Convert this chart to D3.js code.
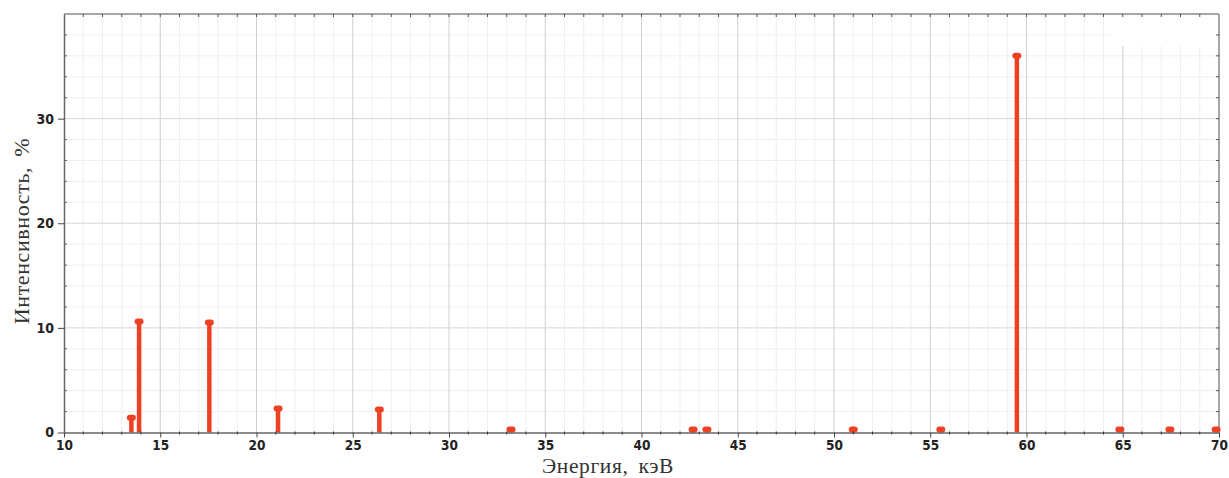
<!DOCTYPE html>
<html>
<head>
<meta charset="utf-8">
<script src="https://cdn.jsdelivr.net/npm/d3@7"></script>
<style>
  body { margin: 0; background: #fff; }
  svg { display: block; }
</style>
</head>
<body>
<svg id="chart" width="1229" height="478"></svg>
<script>
// line energies (keV) and intensities (%)
const energies = [13.5, 13.9, 17.55, 21.12, 26.38, 33.22, 42.68, 43.4, 51.0, 55.55, 59.5, 64.85, 67.45, 69.85];
const intensities = [1.5, 10.7, 10.6, 2.4, 2.3, 0.1, 0.05, 0.08, 0.05, 0.1, 36.1, 0.05, 0.05, 0.05];
const xTicks = [10, 15, 20, 25, 30, 35, 40, 45, 50, 55, 60, 65, 70];
const yTicks = [0, 10, 20, 30];
const xLabel = "Энергия, кэВ";
const yLabel = "Интенсивность, %";

const svg = d3.select("#chart");
const pL = 64, pR = 1219, pT = 14, pB = 432.5;

const x = d3.scaleLinear().domain([10, 70]).range([pL, pR]);
const y = d3.scaleLinear().domain([0, 40]).range([pB, pT]);

const grid = svg.append("g");
// minor grid
grid.selectAll(".mx").data(d3.range(11, 70, 1).filter(d => d % 5 !== 0)).enter().append("line")
  .attr("x1", d => x(d)).attr("x2", d => x(d)).attr("y1", pT).attr("y2", pB)
  .attr("stroke", "#efefef").attr("stroke-width", 1);
grid.selectAll(".my").data(d3.range(2, 40, 2).filter(d => d % 10 !== 0)).enter().append("line")
  .attr("x1", pL).attr("x2", pR).attr("y1", d => y(d)).attr("y2", d => y(d))
  .attr("stroke", "#efefef").attr("stroke-width", 1);
// major grid
grid.selectAll(".Mx").data(xTicks.slice(1, -1)).enter().append("line")
  .attr("x1", d => x(d)).attr("x2", d => x(d)).attr("y1", pT).attr("y2", pB)
  .attr("stroke", "#cfcfcf").attr("stroke-width", 1);
grid.selectAll(".My").data(yTicks.slice(1)).enter().append("line")
  .attr("x1", pL).attr("x2", pR).attr("y1", d => y(d)).attr("y2", d => y(d))
  .attr("stroke", "#d6d6d6").attr("stroke-width", 1);

// blank patch in the upper right corner of the original
svg.append("rect").attr("x", 1113).attr("y", pT + 1).attr("width", pR - 1114).attr("height", 31).attr("fill", "#fff");

// frame
svg.append("line").attr("x1", pL).attr("x2", pR).attr("y1", pT).attr("y2", pT).attr("stroke", "#888").attr("stroke-width", 1.5);
svg.append("line").attr("x1", pR).attr("x2", pR).attr("y1", pT).attr("y2", pB).attr("stroke", "#888").attr("stroke-width", 1.5);

// top / right minor ticks
svg.selectAll(".tt").data(d3.range(11, 70, 1)).enter().append("line")
  .attr("x1", d => x(d)).attr("x2", d => x(d)).attr("y1", pT).attr("y2", pT + 3)
  .attr("stroke", "#555");
svg.selectAll(".rt").data(d3.range(2, 40, 2)).enter().append("line")
  .attr("x1", pR - 3).attr("x2", pR).attr("y1", d => y(d)).attr("y2", d => y(d))
  .attr("stroke", "#555");

// stems
const red = "#ee4124";
const stems = svg.append("g");
stems.selectAll("line").data(energies).enter().append("line")
  .attr("x1", d => x(d)).attr("x2", d => x(d))
  .attr("y1", pB).attr("y2", (d, i) => y(intensities[i]))
  .attr("stroke", red).attr("stroke-width", 4.5);
stems.selectAll("rect").data(energies).enter().append("rect")
  .attr("x", d => x(d) - 4.5).attr("y", (d, i) => Math.min(y(intensities[i]), pB - 4) - 2)
  .attr("width", 9).attr("height", 6).attr("rx", 3)
  .attr("fill", red);

// axes
const xAxis = svg.append("g").attr("transform", `translate(0,${pB})`)
  .call(d3.axisBottom(x).tickValues(xTicks).tickSize(5).tickSizeOuter(0).tickPadding(3));
xAxis.select(".domain").attr("stroke", "#666").attr("stroke-width", 1.5);
xAxis.selectAll(".tick line").attr("stroke", "#444");
xAxis.selectAll("text").attr("fill", "#222").attr("font-family", "'Liberation Sans Narrow', 'DejaVu Sans Condensed', Arial, sans-serif")
  .attr("font-weight", "bold").attr("font-size", 13.5).attr("dy", "0.72em");
xAxis.selectAll(".mt").data(d3.range(11, 70, 1).filter(d => d % 5 !== 0)).enter().append("line")
  .attr("x1", d => x(d)).attr("x2", d => x(d)).attr("y1", -1).attr("y2", 2).attr("stroke", "#333");

const yAxis = svg.append("g").attr("transform", `translate(${pL},0)`)
  .call(d3.axisLeft(y).tickValues(yTicks).tickSize(6).tickSizeOuter(0).tickPadding(4));
yAxis.select(".domain").attr("stroke", "#666").attr("stroke-width", 1.5);
yAxis.selectAll(".tick line").attr("stroke", "#444");
yAxis.selectAll("text").attr("fill", "#222").attr("font-family", "'Liberation Sans Narrow', 'DejaVu Sans Condensed', Arial, sans-serif")
  .attr("font-weight", "bold").attr("font-size", 14);
yAxis.selectAll(".mt").data(d3.range(2, 40, 2).filter(d => d % 10 !== 0)).enter().append("line")
  .attr("x1", 0).attr("x2", 3).attr("y1", d => y(d)).attr("y2", d => y(d)).attr("stroke", "#666");

// axis titles
svg.append("text").attr("x", 608).attr("y", 473).attr("text-anchor", "middle")
  .attr("font-family", "'Liberation Serif', 'DejaVu Serif', serif").attr("font-size", 21.5).attr("fill", "#333")
  .attr("letter-spacing", 0.6).attr("word-spacing", 4)
  .text(xLabel);
svg.append("text").attr("transform", "translate(29,231) rotate(-90)").attr("text-anchor", "middle")
  .attr("font-family", "'Liberation Serif', 'DejaVu Serif', serif").attr("font-size", 22).attr("fill", "#333")
  .attr("letter-spacing", 0.6).attr("word-spacing", 4)
  .text(yLabel);
</script>
</body>
</html>
